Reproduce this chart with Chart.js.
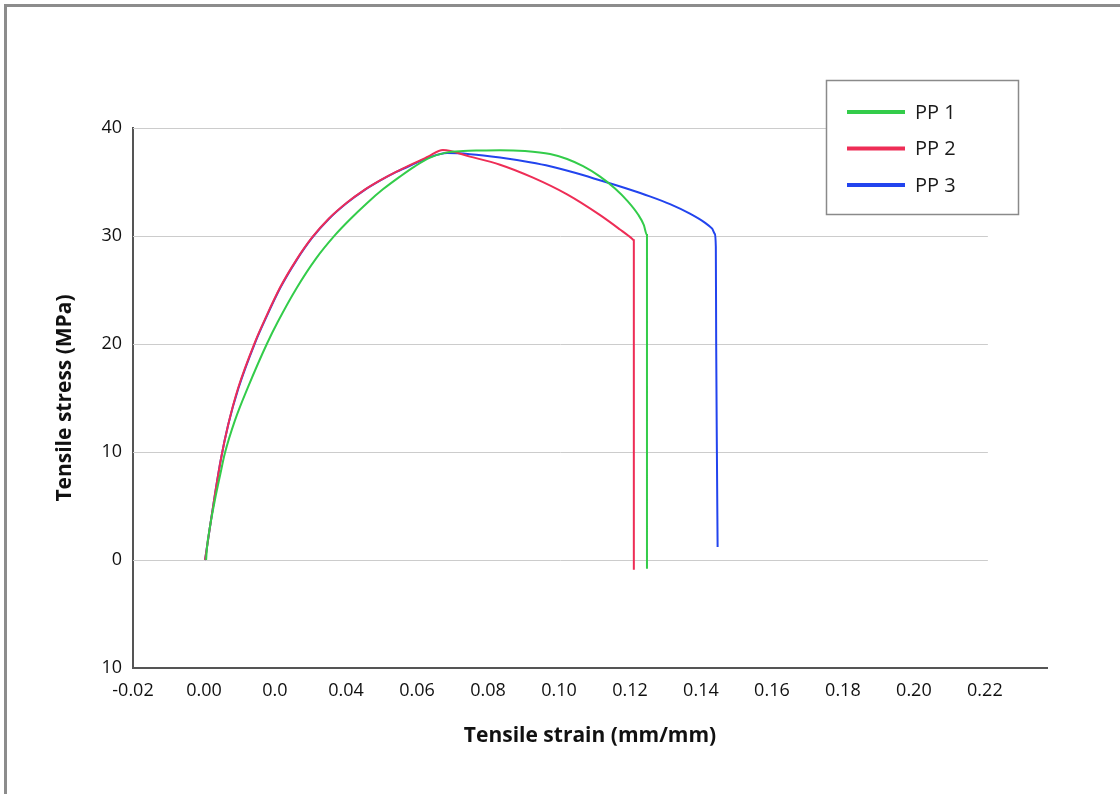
<!DOCTYPE html>
<html>
<head>
<meta charset="utf-8">
<script src="https://cdn.jsdelivr.net/npm/chart.js@4.4.1/dist/chart.umd.min.js"></script>
<style>
  html, body { margin: 0; padding: 0; background: #fff; }
  #wrap { position: relative; width: 1120px; height: 794px; overflow: hidden; }
  #frame { position: absolute; left: 4px; top: 4px; right: 0; bottom: 0;
           border-top: 3px solid #8c8c8c; border-left: 3px solid #8c8c8c; }
  canvas { position: absolute; left: 0; top: 0; }
</style>
</head>
<body>
<div id="wrap">
  <canvas id="chart" width="1120" height="794"></canvas>
  <div id="frame"></div>
</div>
<script>
// series labels + colours
const seriesLabels = ["PP 1", "PP 2", "PP 3"];
const seriesColors = ["#33cc4a", "#ee2d56", "#2244ee"];

// PP 1 (green)
const pp1Strain = [0.0006, 0.0008, 0.0017, 0.0031, 0.0045, 0.0059, 0.0087, 0.0124, 0.0177, 0.0208, 0.0262, 0.0315, 0.0369, 0.0411, 0.0459, 0.0504, 0.0552, 0.0594, 0.0637, 0.0682, 0.0730, 0.0777, 0.0834, 0.0904, 0.0975, 0.1023, 0.1068, 0.1115, 0.1158, 0.1194, 0.1223, 0.1239, 0.1248, 0.1248];
const pp1Stress = [0, 1.0, 3.1, 5.6, 7.8, 9.9, 12.9, 16.0, 20.0, 22.06, 25.24, 27.89, 30.08, 31.53, 33.04, 34.32, 35.5, 36.45, 37.25, 37.72, 37.87, 37.92, 37.95, 37.87, 37.59, 37.13, 36.46, 35.52, 34.4, 33.21, 31.99, 31.03, 30.1, -0.8];

// PP 2 (red)
const pp2Strain = [0.0003, 0.0017, 0.0031, 0.0048, 0.0068, 0.0096, 0.0144, 0.0172, 0.0214, 0.0259, 0.0304, 0.0352, 0.0403, 0.0448, 0.0496, 0.0541, 0.0589, 0.0631, 0.0673, 0.0749, 0.0834, 0.0927, 0.1023, 0.1115, 0.1172, 0.1206, 0.1211, 0.1211];
const pp2Stress = [0, 3.1, 6.1, 9.4, 12.5, 15.9, 20.2, 22.3, 25.2, 27.72, 29.84, 31.62, 33.1, 34.18, 35.14, 35.93, 36.7, 37.34, 37.97, 37.35, 36.6, 35.4, 33.85, 31.95, 30.6, 29.75, 29.6, -0.9];

// PP 3 (blue)
const pp3Strain = [0.0003, 0.0017, 0.0031, 0.0048, 0.0068, 0.0097, 0.0145, 0.0173, 0.0215, 0.0260, 0.0305, 0.0353, 0.0404, 0.0449, 0.0497, 0.0542, 0.0590, 0.0632, 0.0685, 0.0749, 0.0834, 0.0918, 0.0975, 0.1045, 0.1115, 0.1186, 0.1256, 0.1313, 0.1369, 0.1411, 0.1431, 0.1439, 0.1442, 0.1443, 0.1445, 0.1447];
const pp3Stress = [0, 3.1, 6.1, 9.4, 12.5, 15.9, 20.2, 22.3, 25.2, 27.72, 29.84, 31.62, 33.1, 34.18, 35.14, 35.93, 36.65, 37.25, 37.68, 37.58, 37.26, 36.82, 36.45, 35.85, 35.16, 34.44, 33.67, 32.95, 32.07, 31.24, 30.7, 30.2, 29.0, 20.0, 10.0, 1.2];

// axis ticks (labels copied as printed on the original)
const xTickValues = [-0.02, 0.00, 0.02, 0.04, 0.06, 0.08, 0.10, 0.12, 0.14, 0.16, 0.18, 0.20, 0.22];
const xTickLabels = ["-0.02", "0.00", "0.0", "0.04", "0.06", "0.08", "0.10", "0.12", "0.14", "0.16", "0.18", "0.20", "0.22"];
const yTickValues = [-10, 0, 10, 20, 30, 40];
const yTickLabels = ["10", "0", "10", "20", "30", "40"];
const gridValues = [0, 10, 20, 30, 40];

const FONT = "'Open Sans', 'Noto Sans', sans-serif";

function toPoints(xs, ys) {
  return xs.map((x, i) => ({ x: x, y: ys[i] }));
}

const strains = [pp1Strain, pp2Strain, pp3Strain];
const stresses = [pp1Stress, pp2Stress, pp3Stress];

const datasets = seriesLabels.map((label, i) => ({
  label: label,
  data: toPoints(strains[i], stresses[i]),
  borderColor: seriesColors[i],
  borderWidth: 2,
  pointRadius: 0,
  cubicInterpolationMode: "monotone",
  fill: false
}));

// horizontal grid lines stop at the last tick (0.22), not at the axis end
const shortGrid = {
  id: "shortGrid",
  beforeDatasetsDraw(chart) {
    const { ctx, scales: { x, y } } = chart;
    const x0 = x.getPixelForValue(xTickValues[0]);
    const x1 = x.getPixelForValue(xTickValues[xTickValues.length - 1]);
    ctx.save();
    ctx.strokeStyle = "#cccccc";
    ctx.lineWidth = 1;
    gridValues.forEach(v => {
      const py = Math.round(y.getPixelForValue(v)) + 0.5;
      ctx.beginPath();
      ctx.moveTo(x0, py);
      ctx.lineTo(x1 + 3, py);
      ctx.stroke();
    });
    ctx.restore();
  }
};

// boxed legend in the upper right
const boxLegend = {
  id: "boxLegend",
  afterDraw(chart) {
    const ctx = chart.ctx;
    ctx.save();
    ctx.fillStyle = "#ffffff";
    ctx.fillRect(826, 80, 193, 135);
    ctx.strokeStyle = "#8a8a8a";
    ctx.lineWidth = 1.5;
    ctx.strokeRect(826.5, 80.5, 192, 134);
    chart.data.datasets.forEach((ds, i) => {
      const yy = 112 + i * 36.5;
      ctx.strokeStyle = ds.borderColor;
      ctx.lineWidth = 4;
      ctx.beginPath();
      ctx.moveTo(847, yy);
      ctx.lineTo(905, yy);
      ctx.stroke();
      ctx.fillStyle = "#1a1a1a";
      ctx.font = "20px " + FONT;
      ctx.textBaseline = "middle";
      ctx.textAlign = "left";
      ctx.fillText(ds.label, 915, yy + 1);
    });
    ctx.restore();
  }
};

new Chart(document.getElementById("chart"), {
  type: "line",
  data: { datasets: datasets },
  options: {
    responsive: false,
    animation: false,
    layout: { padding: { top: 128, right: 73, left: 0, bottom: 0 } },
    plugins: {
      legend: { display: false },
      tooltip: { enabled: false }
    },
    scales: {
      x: {
        type: "linear",
        min: -0.02,
        max: 0.2375,
        afterBuildTicks: scale => { scale.ticks = xTickValues.map(v => ({ value: v })); },
        afterFit: scale => { scale.height = 126; },
        grid: { display: false, drawTicks: false },
        border: { display: true, color: "#555555", width: 2 },
        ticks: {
          autoSkip: false,
          maxRotation: 0,
          padding: 12,
          color: "#111111",
          font: { family: FONT, size: 18 },
          callback: (value, index) => xTickLabels[index]
        },
        title: {
          display: true,
          text: "Tensile strain (mm/mm)",
          color: "#111111",
          font: { family: FONT, size: 21, weight: "bold" },
          padding: { top: 0, bottom: 45 }
        }
      },
      y: {
        type: "linear",
        min: -10,
        max: 40,
        afterBuildTicks: scale => { scale.ticks = yTickValues.map(v => ({ value: v })); },
        afterFit: scale => { scale.width = 133; },
        grid: { display: false, drawTicks: false },
        border: { display: true, color: "#555555", width: 2 },
        ticks: {
          padding: 11,
          color: "#111111",
          font: { family: FONT, size: 18 },
          callback: (value, index) => yTickLabels[index]
        },
        title: {
          display: true,
          text: "Tensile stress (MPa)",
          color: "#111111",
          font: { family: FONT, size: 21, weight: "bold" },
          padding: { top: 52, bottom: 0 }
        }
      }
    }
  },
  plugins: [shortGrid, boxLegend]
});
</script>
</body>
</html>
